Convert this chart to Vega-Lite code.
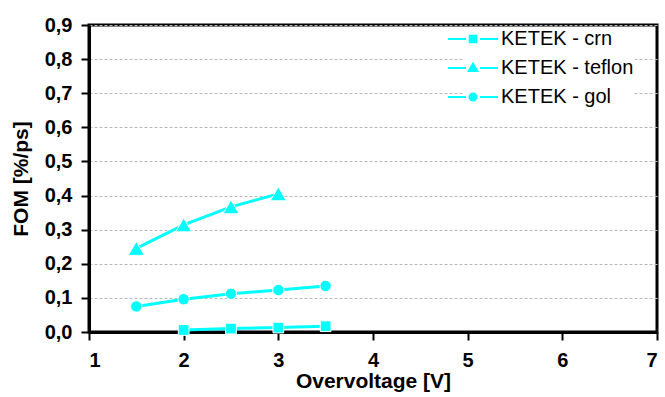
{
  "$schema": "https://vega.github.io/schema/vega-lite/v6.json",
  "autosize": "none",
  "width": 568,
  "height": 307,
  "padding": {"left": 89, "top": 25, "right": 8, "bottom": 65},
  "background": "white",
  "config": {
    "font": "Liberation Sans",
    "view": {"stroke": "black", "strokeWidth": 3}
  },
  "data": {
    "values": [
      {"v": 2.0, "fom": 0.006, "series": "KETEK - crn", "coating": "crn"},
      {"v": 2.5, "fom": 0.010, "series": "KETEK - crn", "coating": "crn"},
      {"v": 3.0, "fom": 0.013, "series": "KETEK - crn", "coating": "crn"},
      {"v": 3.5, "fom": 0.017, "series": "KETEK - crn", "coating": "crn"},
      {"v": 1.5, "fom": 0.245, "series": "KETEK - teflon", "coating": "teflon"},
      {"v": 2.0, "fom": 0.314, "series": "KETEK - teflon", "coating": "teflon"},
      {"v": 2.5, "fom": 0.367, "series": "KETEK - teflon", "coating": "teflon"},
      {"v": 3.0, "fom": 0.405, "series": "KETEK - teflon", "coating": "teflon"},
      {"v": 1.5, "fom": 0.075, "series": "KETEK - gol", "coating": "gol"},
      {"v": 2.0, "fom": 0.096, "series": "KETEK - gol", "coating": "gol"},
      {"v": 2.5, "fom": 0.112, "series": "KETEK - gol", "coating": "gol"},
      {"v": 3.0, "fom": 0.123, "series": "KETEK - gol", "coating": "gol"},
      {"v": 3.5, "fom": 0.135, "series": "KETEK - gol", "coating": "gol"}
    ]
  },
  "encoding": {
    "x": {
      "field": "v", "type": "quantitative",
      "scale": {"domain": [1, 7], "nice": false, "zero": false},
      "axis": {
        "title": "Overvoltage [V]",
        "values": [1, 2, 3, 4, 5, 6, 7],
        "format": "d",
        "grid": false,
        "domainColor": "black", "domainWidth": 3,
        "tickColor": "black", "tickWidth": 2, "tickSize": 8,
        "labelFontSize": 20, "labelFontWeight": "bold", "labelColor": "black", "labelPadding": 10,
        "titleFontSize": 21, "titleFontWeight": "bold", "titleColor": "black", "titlePadding": 0
      }
    },
    "y": {
      "field": "fom", "type": "quantitative",
      "scale": {"domain": [0, 0.9], "nice": false},
      "axis": {
        "title": "FOM [%/ps]",
        "values": [0, 0.1, 0.2, 0.3, 0.4, 0.5, 0.6, 0.7, 0.8, 0.9],
        "labelExpr": "replace(format(datum.value, '.1f'), '.', ',')",
        "grid": true, "gridColor": "#b8b8b8", "gridDash": [3, 2], "gridWidth": 1,
        "domainColor": "black", "domainWidth": 3,
        "tickColor": "black", "tickWidth": 2, "tickSize": 8,
        "labelFontSize": 20, "labelFontWeight": "bold", "labelColor": "black", "labelPadding": 9,
        "titleFontSize": 21, "titleFontWeight": "bold", "titleColor": "black", "titlePadding": 13
      }
    }
  },
  "layer": [
    {
      "mark": {"type": "line", "strokeWidth": 3, "color": "#00FFFF"},
      "encoding": {"detail": {"field": "series"}}
    },
    {
      "mark": {
        "type": "point", "filled": true, "opacity": 1, "stroke": "white", "strokeWidth": 1,
        "size": {"expr": "datum.series === 'KETEK - teflon' ? 260 : datum.series === 'KETEK - crn' ? 115 : 130"}
      },
      "encoding": {
        "shape": {
          "field": "coating", "type": "nominal",
          "scale": {
            "domain": ["crn", "teflon", "gol"],
            "range": ["square", "triangle-up", "circle"]
          },
          "legend": null
        },
        "color": {
          "field": "series", "type": "nominal",
          "scale": {
            "domain": ["KETEK - crn", "KETEK - teflon", "KETEK - gol"],
            "range": ["#00FFFF", "#00FFFF", "#00FFFF"]
          },
          "legend": {
            "title": null,
            "orient": "none",
            "legendX": 374,
            "legendY": 4,
            "padding": 0,
            "fillColor": "white",
            "symbolSize": 100,
            "symbolType": {"expr": "datum.value === 'KETEK - crn' ? 'M-5,0H-1.4M-0.65,-0.65H0.65V0.65H-0.65ZM1.4,0H5' : datum.value === 'KETEK - teflon' ? 'M-5,0H-1.4M0,-0.85L0.85,0.6H-0.85ZM1.4,0H5' : 'M-5,0H-1.4M0.7,0A0.7,0.7,0,1,1,-0.7,0A0.7,0.7,0,1,1,0.7,0ZM1.4,0H5'"},
            "symbolFillColor": "#00FFFF",
            "symbolStrokeColor": "#00FFFF",
            "symbolStrokeWidth": 2,
            "symbolOpacity": 1,
            "labelOffset": 18,
            "rowPadding": 9,
            "labelFontSize": 20,
            "labelColor": "black",
            "labelLimit": 300
          }
        }
      }
    }
  ]
}
